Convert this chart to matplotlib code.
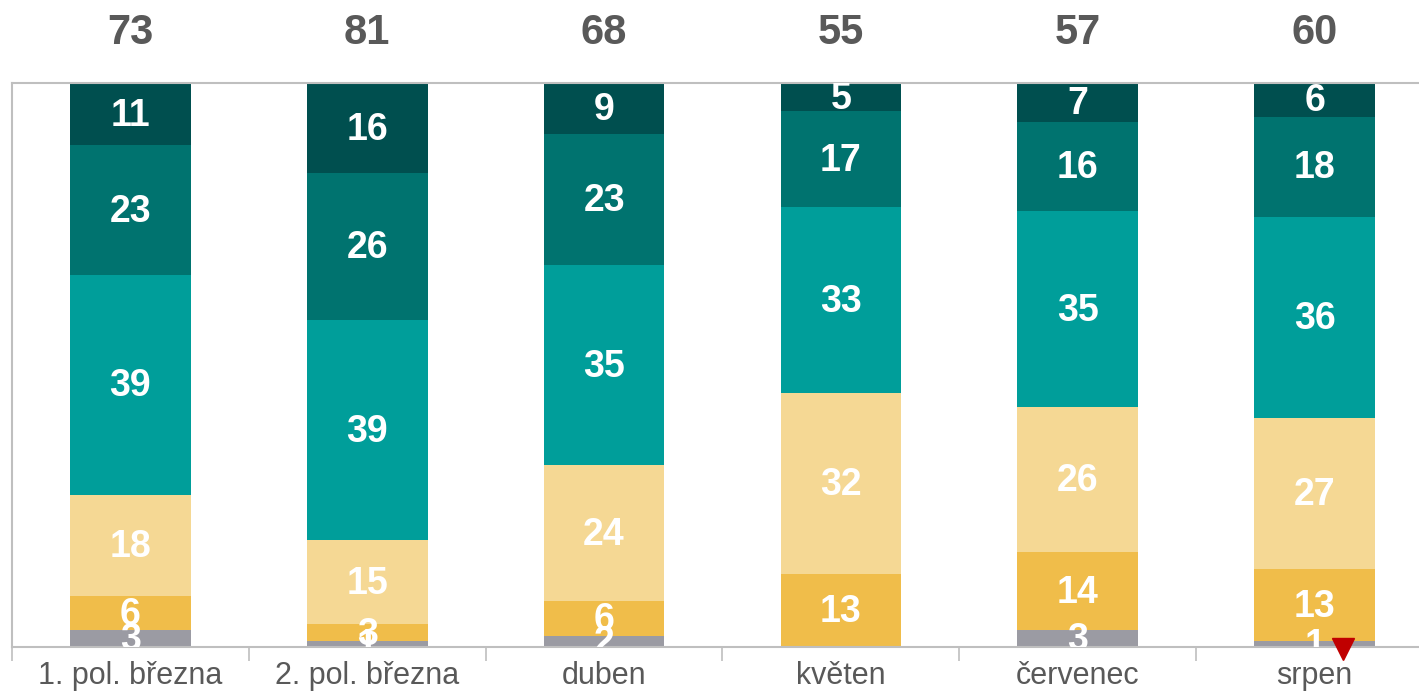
import matplotlib.pyplot as plt
import numpy as np

plt.rcParams['font.family'] = ['Liberation Sans', 'DejaVu Sans']

kategorie = ['1. pol. března', '2. pol. března', 'duben', 'květen', 'červenec', 'srpen']

# segmenty odspodu nahoru
seda = [3, 1, 2, 0, 3, 1]
zluta = [6, 3, 6, 13, 14, 13]
svetla = [18, 15, 24, 32, 26, 27]
tyrkys = [39, 39, 35, 33, 35, 36]
tmava = [23, 26, 23, 17, 16, 18]
nejtmavsi = [11, 16, 9, 5, 7, 6]
souhrn = [73, 81, 68, 55, 57, 60]

rady = [seda, zluta, svetla, tyrkys, tmava, nejtmavsi]
barvy = ['#9b9ba3', '#f0bd4a', '#f5d894', '#009e9a', '#00736f', '#004f4f']

fig = plt.figure(figsize=(14.19, 6.91), dpi=100)
ax = fig.add_axes([12 / 1419, 44 / 691, 1421 / 1419, 564 / 691])

x = np.arange(len(kategorie))
data = np.array(rady, dtype=float)
celkem = data.sum(axis=0)
vysky = data / celkem * 100

spodek = np.zeros(len(kategorie))
for i in range(len(rady)):
    ax.bar(x, vysky[i], bottom=spodek, width=0.51, color=barvy[i], linewidth=0)
    for j in range(len(kategorie)):
        if data[i, j] > 0:
            ax.text(x[j], spodek[j] + vysky[i, j] / 2 - 0.3, str(int(data[i, j])),
                    ha='center', va='center', color='white', fontsize=27,
                    fontweight='bold', clip_on=True)
    spodek += vysky[i]

for j in range(len(kategorie)):
    ax.text(x[j], 1.088, str(souhrn[j]), transform=ax.get_xaxis_transform(),
            ha='center', va='center', color='#595959', fontsize=30, fontweight='bold')

# cervena sipka u srpna
ax.plot([5.12], [-0.3], marker='v', color='#c00000', markersize=16, clip_on=False, zorder=5)

ax.set_xlim(-0.5, 5.5)
ax.set_ylim(0, 100)
ax.set_yticks([])
ax.set_xticks(x)
ax.set_xticklabels(kategorie, fontsize=22, color='#595959')
ax.tick_params(axis='x', which='major', length=0, pad=10)
ax.set_xticks(np.arange(-0.5, 6, 1), minor=True)
ax.tick_params(axis='x', which='minor', length=10, color='#bfbfbf', width=1.2)

for s in ['left', 'top', 'bottom', 'right']:
    ax.spines[s].set_color('#bfbfbf')
    ax.spines[s].set_linewidth(1.5)

fig.savefig('out.png', dpi=100)
